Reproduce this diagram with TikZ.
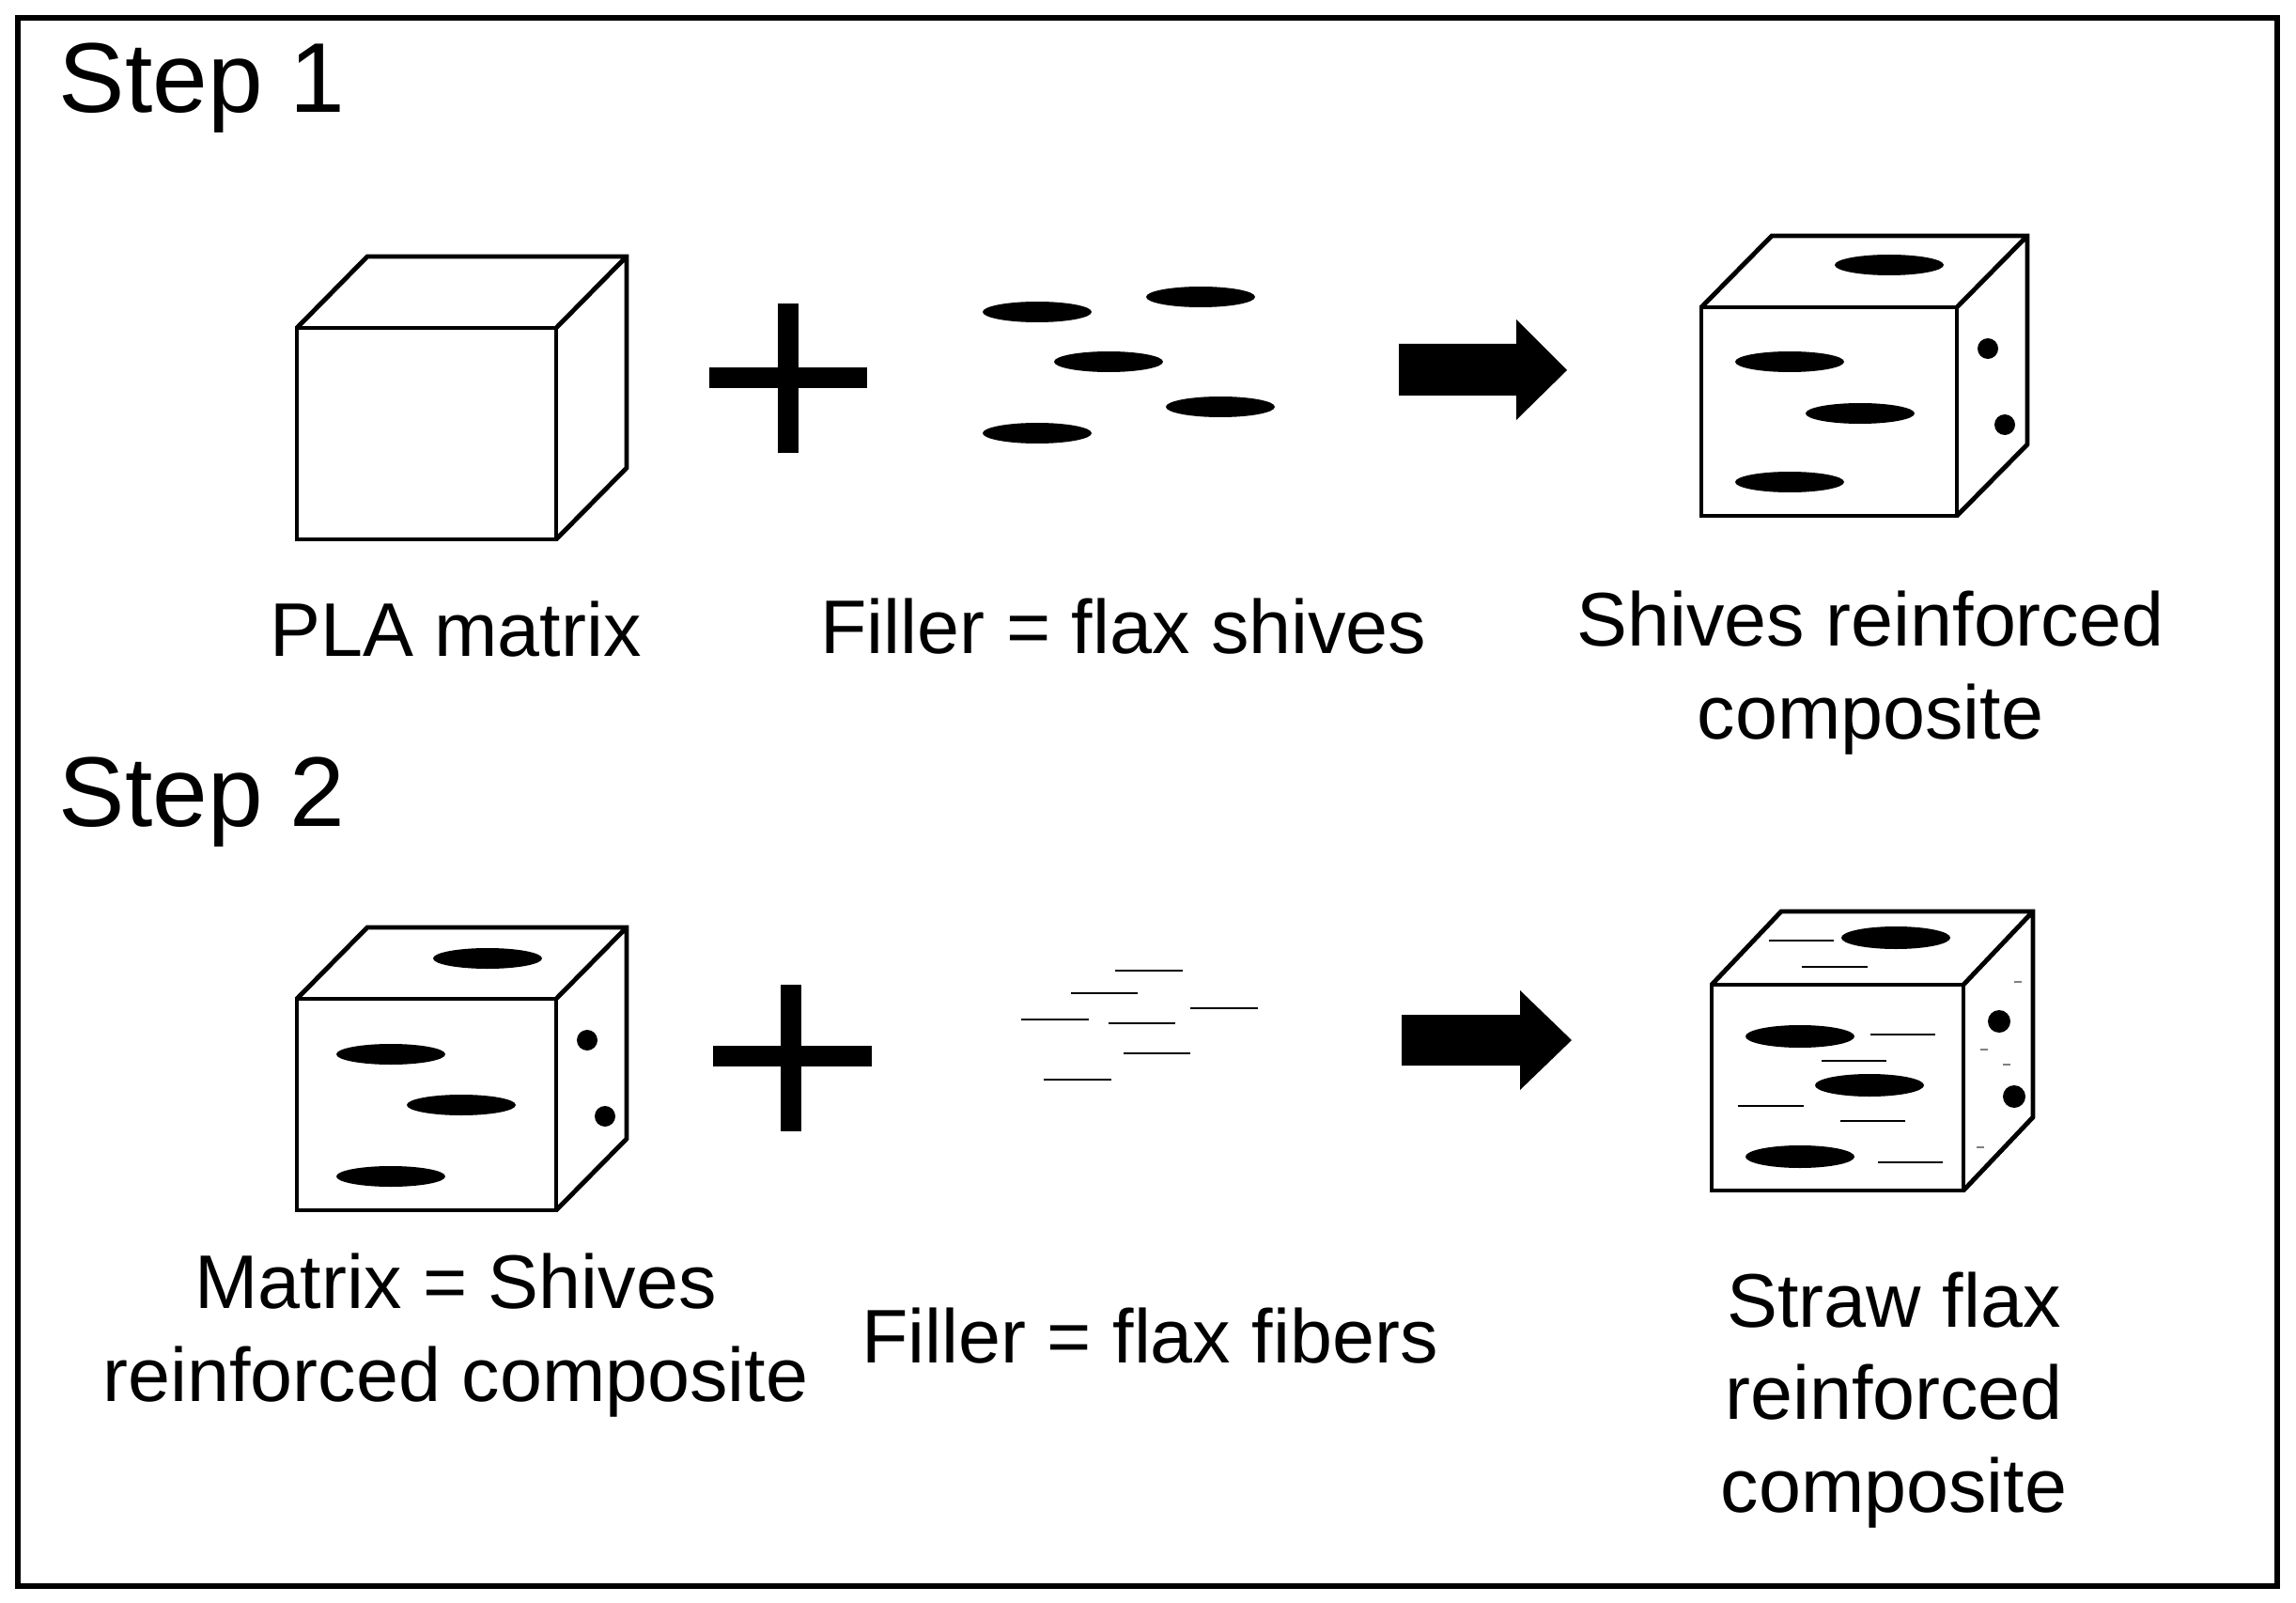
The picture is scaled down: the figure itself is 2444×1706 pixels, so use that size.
\documentclass[tikz,border=0pt]{standalone}
\usepackage{fontspec}
\setmainfont{Liberation Sans}
\begin{document}
\begin{tikzpicture}[x=0.01cm,y=-0.01cm,
  cube/.style={line width=1.4pt,line join=miter},
  shive/.style={fill=black},
  fib/.style={line width=0.8pt},
  tiny/.style={line width=0.8pt,gray},
  lbl/.style={font=\fontsize{23}{28}\selectfont,align=center,inner sep=0pt},
  steplbl/.style={font=\fontsize{30}{36}\selectfont,anchor=west,inner sep=0pt},
  plus/.style={line width=0.22cm},
  arr/.style={fill=black}]
\useasboundingbox (0,0) rectangle (2444,1706);
\draw[line width=1.5pt] (19,19) rectangle (2424,1688);
\node[steplbl] (s1) at (62,94) {Step 1};
\node[steplbl] (s2) at (62,854) {Step 2};
% cube 1
\draw[cube] (316,349) rectangle (592,574);
\draw[cube] (316,349) -- ++(75,-76) -- ++(276,0) -- ++(0,225) -- (592,574) (592,349) -- ++(75,-76);
\node[lbl] (t1) at (485,670) {PLA matrix};
% plus 1
\draw[plus] (839,323) -- (839,482) (755,402) -- (923,402);
% shives
\foreach \p in {(1104,332),(1278,316),(1180,385),(1299,433),(1104,461)} \fill[shive] \p ellipse (58 and 11);
\node[lbl] (t2) at (1196,667) {Filler = flax shives};
% arrow 1
\fill[arr] (1489,366) -- (1614,366) -- (1614,340) -- (1668,394) -- (1614,447) -- (1614,421) -- (1489,421) -- cycle;
% cube 2
\draw[cube] (1811,327) rectangle (2083,549);
\draw[cube] (1811,327) -- ++(75,-76) -- ++(272,0) -- ++(0,222) -- (2083,549) (2083,327) -- ++(75,-76);
\foreach \p in {(2011,282),(1905,385),(1980,440),(1905,513)} \fill[shive] \p ellipse (58 and 11);
\fill (2116,371) circle (11) (2134,452) circle (11);
\node[lbl] (t3) at (1991,716) {Shives reinforced\\composite};
% step 2 cube left
\draw[cube] (316,1063) rectangle (592,1288);
\draw[cube] (316,1063) -- ++(75,-76) -- ++(276,0) -- ++(0,225) -- (592,1288) (592,1063) -- ++(75,-76);
\foreach \p in {(519,1020),(416,1122),(491,1176),(416,1252)} \fill[shive] \p ellipse (58 and 11);
\fill (625,1107) circle (11) (644,1188) circle (11);
\node[lbl] (t4) at (485,1421) {Matrix = Shives\\reinforced composite};
% plus 2
\draw[plus] (842,1048) -- (842,1204) (759,1124) -- (928,1124);
% fibers
\foreach \a/\b/\y in {1187/1259/1033,1140/1211/1057,1267/1339/1073,1087/1159/1085,1180/1251/1089,1196/1267/1121,1111/1183/1149}
  \draw[fib] (\a,\y) -- (\b,\y);
\node[lbl] (t5) at (1224,1422) {Filler = flax fibers};
% arrow 2
\fill[arr] (1492,1080) -- (1618,1080) -- (1618,1054) -- (1673,1107) -- (1618,1160) -- (1618,1134) -- (1492,1134) -- cycle;
% cube right
\draw[cube] (1822,1048) rectangle (2090,1267);
\draw[cube] (1822,1048) -- ++(74,-78) -- ++(268,0) -- ++(0,219) -- (2090,1267) (2090,1048) -- ++(74,-78);
\foreach \p in {(2018,998),(1916,1103),(1990,1155),(1916,1231)} \fill[shive] \p ellipse (58 and 12);
\fill (2128,1087) circle (12) (2144,1167) circle (12);
\foreach \a/\b/\y in {1883/1952/1001,1918/1988/1029,1991/2060/1101,1939/2008/1129,1850/1920/1177,1959/2028/1193,1999/2068/1237}
  \draw[fib] (\a,\y) -- (\b,\y);
\foreach \x/\y in {2148/1045,2112/1117,2136/1133,2108/1221}
  \draw[tiny] (\x-4,\y) -- (\x+4,\y);
\node[lbl] (t6) at (2016,1490) {Straw flax\\reinforced\\composite};
\end{tikzpicture}
\end{document}
